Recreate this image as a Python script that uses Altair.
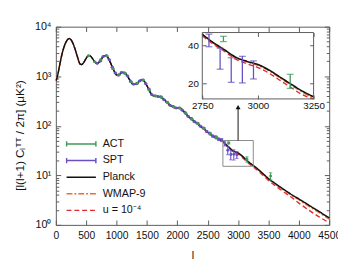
import altair as alt
import pandas as pd

# ---------------- data ----------------
L = [2, 10, 30, 60, 100, 150, 200, 220, 250, 300, 350, 400, 420, 450, 500, 530, 560, 600,
     650, 680, 720, 760, 800, 830, 870, 920, 970, 1000, 1040, 1080, 1120, 1170, 1220, 1270,
     1320, 1380, 1420, 1460, 1510, 1560, 1610, 1660, 1720, 1780, 1840, 1900, 1950, 2000,
     2050, 2100, 2150, 2200, 2250, 2300, 2350, 2400, 2450, 2500, 2550, 2600, 2650, 2700,
     2750, 2800, 2850, 2900, 2950, 3000, 3050, 3100, 3150, 3200, 3250, 3300, 3400, 3500,
     3600, 3700, 3800, 3900, 4000, 4100, 4200, 4300, 4400, 4500]

PLANCK = [820, 850, 1050, 1600, 2750, 4400, 5600, 5780, 5450, 4050, 2600, 1760, 1720, 1830,
          2300, 2580, 2600, 2300, 1900, 1800, 1960, 2320, 2600, 2610, 2230, 1640, 1200, 1060,
          1060, 1180, 1190, 1040, 830, 690, 690, 810, 845, 780, 610, 460, 400, 395, 385, 340,
          290, 252, 236, 230, 227, 200, 170, 148, 132, 119, 107, 95, 85, 75, 67, 61, 57, 53,
          48.8, 42, 36.9, 32.3, 30, 28.3, 25.6, 22.5, 19.8, 17.5, 15.8, 14.2, 11.1, 8.6,
          7.0, 5.75, 4.75, 3.95, 3.35, 2.8, 2.35, 1.98, 1.65, 1.38]

WMAP9 = [820, 850, 1050, 1600, 2740, 4380, 5560, 5740, 5420, 4030, 2600, 1760, 1720, 1820,
         2280, 2560, 2580, 2290, 1900, 1800, 1950, 2300, 2580, 2590, 2220, 1640, 1200, 1060,
         1055, 1170, 1180, 1035, 828, 688, 686, 804, 838, 775, 606, 457, 397, 392, 382, 337,
         288, 250, 234, 228, 225, 198, 168, 146.5, 130.5, 117.5, 105.7, 93.8, 84, 74, 66.2,
         60.3, 56.3, 52.4, 48.2, 41.5, 36.5, 31.9, 29.6, 27.8, 25.2, 22.1, 19.4, 17.1, 15.4,
         13.8, 10.8, 8.3, 6.75, 5.5, 4.55, 3.78, 3.2, 2.66, 2.23, 1.87, 1.56, 1.3]

U4 = [820, 850, 1050, 1600, 2750, 4400, 5600, 5780, 5450, 4050, 2600, 1760, 1720, 1830,
      2300, 2580, 2600, 2300, 1900, 1800, 1960, 2320, 2600, 2610, 2230, 1640, 1200, 1060,
      1060, 1180, 1190, 1040, 830, 690, 689, 808, 842, 777, 607, 457, 397, 391, 380, 335,
      285, 247, 231, 225, 221, 194, 165, 143, 127.5, 114.5, 103, 91.5, 82, 72.5, 65, 59.2,
      55.4, 51.5, 47.5, 40.8, 35.8, 31.2, 28.7, 26.8, 24.2, 21.2, 18.6, 16.4, 14.8, 13.2,
      10.3, 7.9, 6.35, 5.15, 4.2, 3.45, 2.75, 2.25, 1.85, 1.54, 1.3, 1.1]

SPT_L = [680, 730, 780, 830, 880, 930, 980, 1030, 1080, 1130, 1180, 1230, 1280, 1330, 1380,
         1430, 1480, 1530, 1580, 1630, 1680, 1730, 1780, 1830, 1880, 1930, 1980, 2030, 2080,
         2130, 2180, 2230, 2280, 2330, 2380, 2430, 2480, 2530, 2580, 2630, 2680, 2730, 2780,
         2830, 2880, 2930, 2980]
SPT_D = [1820, 2010, 2500, 2590, 2150, 1520, 1160, 1045, 1190, 1165, 1010, 780, 690, 705, 800,
         845, 705, 555, 425, 402, 388, 384, 335, 300, 258, 245, 229, 230, 206, 184, 154, 140,
         121, 113, 98, 90, 77, 71, 62, 59.5, 53.5, 51.5, 44, 32, 26.25, 26.55, 26]
SPT_E = [25, 28, 32, 32, 26, 20, 16, 14, 15, 15, 12, 10, 9, 9, 10, 10, 9, 7, 6, 6, 6, 6, 5,
         4.5, 4, 4, 4, 4, 3.8, 3.5, 3.3, 3.2, 3, 2.9, 2.9, 2.9, 2.9, 2.9, 3, 3.1, 3.3, 3.6,
         5, 6, 5.75, 6.25, 4.2]

ACT_L = [540, 640, 740, 840, 940, 1040, 1140, 1240, 1340, 1440, 1540, 1640, 1740, 1840, 1940,
         2040, 2140, 2240, 2340, 2440, 2545, 2645, 2845, 3145, 3535]
ACT_D = [2600, 1950, 2150, 2560, 1420, 1070, 1140, 770, 720, 830, 520, 400, 372, 292, 240,
         226, 176, 135, 110, 88, 68, 57.5, 44.95, 21.05, 9.65]
ACT_E = [45, 35, 40, 42, 25, 20, 20, 14, 13, 14, 9, 8, 7, 6, 5, 4.5, 4, 3.5, 3.3, 3.2, 3.3,
         3.5, 2.15, 2.65, 1.65]

SERIES = ["ACT", "SPT", "Planck", "WMAP-9", "u = 10⁻⁴"]
X_TICKS = [0, 500, 1000, 1500, 2000, 2500, 3000, 3500, 4000, 4500]
Y_MAJOR = [1, 10, 100, 1000, 10000]
Y_MINOR = [2, 3, 4, 5, 6, 7, 8, 9, 20, 30, 40, 50, 60, 70, 80, 90,
           200, 300, 400, 500, 600, 700, 800, 900, 2000, 3000, 4000, 5000, 6000, 7000, 8000, 9000]
INSET_L = [2750, 3250]
INSET_D = [15.2, 50.4]
INSET_X_TICKS = [2750, 3000, 3250]
INSET_Y_TICKS = [20, 40]
ARROW_L = 3000
ARROW_D = [50.4, 225]
ARROW_HEAD_D = 238

# ---------------- styles / layout ----------------
COLORS = ["#3d9a58", "#6a4fc2", "#111111", "#f26a2a", "#e0282e"]
DASHES = [[1, 0], [1, 0], [1, 0], [6, 2, 2, 2], [5, 3]]
W, H = 280, 203
IX = [150, 264]       # inset pixel range (x)
IY = [74, 6]          # inset pixel range (y, bottom -> top)
FONT = "Liberation Sans"
FRAME = "#5a5a5a"

X_MAIN = alt.Scale(domain=[0, 4500], nice=False, zero=False)
Y_MAIN = alt.Scale(type="log", domain=[1, 10000], nice=False)
X_INS = alt.Scale(domain=INSET_L, range=IX, nice=False, zero=False)
Y_INS = alt.Scale(type="log", domain=INSET_D, range=IY, nice=False, clamp=True)

CAP_PATH = "M-1,0H1M-1,-0.18V0.18M1,-0.18V0.18"
LEGEND = alt.Legend(
    title=None, orient="none", legendX=10, legendY=112, padding=0,
    symbolSize=900, symbolStrokeWidth=1.5, labelFontSize=11, labelFont=FONT,
    labelColor="#111", labelOffset=6, clipHeight=16.25, rowPadding=0,
    symbolType=alt.ExprRef(expr="(datum.value == 'ACT' || datum.value == 'SPT') ? '" + CAP_PATH + "' : 'M-1,0H1'"),
)
color_enc = alt.Color("series:N", scale=alt.Scale(domain=SERIES, range=COLORS), legend=LEGEND)
dash_enc = alt.StrokeDash("series:N", scale=alt.Scale(domain=SERIES, range=DASHES), legend=LEGEND)

tick_style = dict(domain=False, grid=False, tickColor=FRAME, tickWidth=1, labelFont=FONT,
                  labelColor="#111", titleFont=FONT, titleColor="#111", titleFontWeight="normal")

AX_X_BOTTOM = alt.Axis(values=X_TICKS, orient="bottom", offset=-5, tickSize=5, labelPadding=6,
                       labelFlush=False, labelFontSize=10.5, format="d", title="l",
                       titleFontSize=11, titlePadding=9, **tick_style)
AX_X_TOP = alt.Axis(values=X_TICKS, orient="top", offset=-5, tickSize=5, labels=False, title=None,
                    **tick_style)
AX_Y_LEFT = alt.Axis(values=Y_MAJOR, orient="left", offset=-5, tickSize=5, labelPadding=5,
                     labelFontSize=11,
                     labelExpr="['10⁰','10¹','10²','10³','10⁴'][round(log(datum.value)/LN10)]",
                     title="[l(l+1) Cₗᵀᵀ / 2π] (μK²)", titleFontSize=12, titlePadding=8,
                     titleY=111, **tick_style)
AX_Y_LEFT_MINOR = alt.Axis(values=Y_MINOR, orient="left", offset=-3, tickSize=3, labels=False,
                           title=None, **tick_style)
AX_Y_RIGHT = alt.Axis(values=Y_MAJOR, orient="right", offset=-5, tickSize=5, labels=False,
                      title=None, **tick_style)
AX_Y_RIGHT_MINOR = alt.Axis(values=Y_MINOR, orient="right", offset=-3, tickSize=3, labels=False,
                            title=None, **tick_style)

AX_IX_BOTTOM = alt.Axis(values=INSET_X_TICKS, orient="bottom", offset=-(H - IY[0]) - 4, tickSize=4,
                        labelPadding=2, labelFlush=False, labelFontSize=10, format="d", title=None,
                        **tick_style)
AX_IX_TOP = alt.Axis(values=INSET_X_TICKS, orient="top", offset=-IY[1] - 4, tickSize=4,
                     labels=False, title=None, **tick_style)
AX_IY_LEFT = alt.Axis(values=INSET_Y_TICKS, orient="left", offset=-IX[0] - 4, tickSize=4,
                      labelPadding=4, labelFontSize=10, format="d", title=None, **tick_style)
AX_IY_RIGHT = alt.Axis(values=INSET_Y_TICKS, orient="right", offset=-(W - IX[1]) - 4, tickSize=4,
                       labels=False, title=None, **tick_style)

# ---------------- tables ----------------
n = len(L)
def curve_df(vals, name):
    return pd.DataFrame({"l": L, "D": vals, "series": [name] * n})

cu = curve_df(U4, "u = 10⁻⁴")
cw = curve_df(WMAP9, "WMAP-9")
cp = curve_df(PLANCK, "Planck")
spt = pd.DataFrame({"l": SPT_L, "D": SPT_D,
                    "lo": [d - e for d, e in zip(SPT_D, SPT_E)],
                    "hi": [d + e for d, e in zip(SPT_D, SPT_E)]})
act = pd.DataFrame({"l": ACT_L, "D": ACT_D,
                    "lo": [d - e for d, e in zip(ACT_D, ACT_E)],
                    "hi": [d + e for d, e in zip(ACT_D, ACT_E)]})
box = pd.DataFrame({"l0": [INSET_L[0]], "l1": [INSET_L[1]], "d0": [INSET_D[0]], "d1": [INSET_D[1]]})
arrow = pd.DataFrame({"l": [ARROW_L], "d0": [ARROW_D[0]], "d1": [ARROW_D[1]], "dh": [ARROW_HEAD_D]})

def in_inset(df):
    return df[(df["l"] >= INSET_L[0]) & (df["l"] <= INSET_L[1])]

def X(field, scale, axis=None):
    return alt.X(field, scale=scale, axis=axis)

def Y(field, scale, axis=None):
    return alt.Y(field, scale=scale, axis=axis)

layers = []

# ---- main curves ----
layers.append(alt.Chart(cu).mark_line(strokeWidth=1.4, interpolate="monotone").encode(
    x=X("l:Q", X_MAIN), y=Y("D:Q", Y_MAIN, AX_Y_LEFT_MINOR), color=color_enc, strokeDash=dash_enc))
layers.append(alt.Chart(cw).mark_line(strokeWidth=1.2, interpolate="monotone").encode(
    x=X("l:Q", X_MAIN, AX_X_TOP), y=Y("D:Q", Y_MAIN, AX_Y_RIGHT), color=color_enc, strokeDash=dash_enc))
layers.append(alt.Chart(cp).mark_line(strokeWidth=1.5, interpolate="monotone").encode(
    x=X("l:Q", X_MAIN, AX_X_BOTTOM), y=Y("D:Q", Y_MAIN, AX_Y_LEFT), color=color_enc, strokeDash=dash_enc))

# ---- main data points ----
for df, col, first in ((spt, COLORS[1], True), (act, COLORS[0], False)):
    layers.append(alt.Chart(df).mark_rule(color=col, strokeWidth=1.1).encode(
        x=X("l:Q", X_MAIN), y=Y("lo:Q", Y_MAIN, AX_Y_RIGHT_MINOR if first else None), y2="hi:Q"))
    for f in ("lo", "hi"):
        layers.append(alt.Chart(df).mark_tick(color=col, orient="horizontal", size=3.5, thickness=1).encode(
            x=X("l:Q", X_MAIN), y=Y(f + ":Q", Y_MAIN)))
    layers.append(alt.Chart(df).mark_point(color=col, filled=True, size=9, opacity=1).encode(
        x=X("l:Q", X_MAIN), y=Y("D:Q", Y_MAIN)))

# ---- zoom box and arrow on the main plot ----
layers.append(alt.Chart(box).mark_rect(filled=False, stroke="#8a8a8a", strokeWidth=1).encode(
    x=X("l0:Q", X_MAIN), x2="l1:Q", y=Y("d0:Q", Y_MAIN), y2="d1:Q"))
layers.append(alt.Chart(arrow).mark_rule(color="#111", strokeWidth=1).encode(
    x=X("l:Q", X_MAIN), y=Y("d0:Q", Y_MAIN), y2="d1:Q"))
layers.append(alt.Chart(arrow).mark_point(shape="triangle-up", filled=True, size=26, color="#111",
                                          opacity=1).encode(
    x=X("l:Q", X_MAIN), y=Y("dh:Q", Y_MAIN)))

# ---- inset ----
layers.append(alt.Chart(in_inset(cu)).mark_line(strokeWidth=1.4, interpolate="monotone").encode(
    x=X("l:Q", X_INS), y=Y("D:Q", Y_INS), color=color_enc, strokeDash=dash_enc))
layers.append(alt.Chart(in_inset(cw)).mark_line(strokeWidth=1.2, interpolate="monotone").encode(
    x=X("l:Q", X_INS, AX_IX_TOP), y=Y("D:Q", Y_INS, AX_IY_RIGHT), color=color_enc, strokeDash=dash_enc))
layers.append(alt.Chart(in_inset(cp)).mark_line(strokeWidth=1.6, interpolate="monotone").encode(
    x=X("l:Q", X_INS, AX_IX_BOTTOM), y=Y("D:Q", Y_INS, AX_IY_LEFT), color=color_enc, strokeDash=dash_enc))
for df, col in ((in_inset(spt), COLORS[1]), (in_inset(act), COLORS[0])):
    layers.append(alt.Chart(df).mark_rule(color=col, strokeWidth=1.3).encode(
        x=X("l:Q", X_INS), y=Y("lo:Q", Y_INS), y2="hi:Q"))
    for f in ("lo", "hi"):
        layers.append(alt.Chart(df).mark_tick(color=col, orient="horizontal", size=7, thickness=1.3).encode(
            x=X("l:Q", X_INS), y=Y(f + ":Q", Y_INS)))
layers.append(alt.Chart(box).mark_rect(filled=False, stroke=FRAME, strokeWidth=1).encode(
    x=X("l0:Q", X_INS), x2="l1:Q", y=Y("d0:Q", Y_INS), y2="d1:Q"))

chart = alt.layer(*layers).resolve_scale(
    x="independent", y="independent"
).resolve_axis(
    x="independent", y="independent"
).properties(
    width=W, height=H,
    autosize=alt.AutoSizeParams(type="none"),
    padding={"left": 49, "top": 16, "right": 9, "bottom": 40},
    background="white",
).configure_view(
    stroke=FRAME, strokeWidth=1
).configure_axis(
    labelFont=FONT, titleFont=FONT
)

chart.save("out.html", embed_options={"renderer": "svg", "actions": False})
